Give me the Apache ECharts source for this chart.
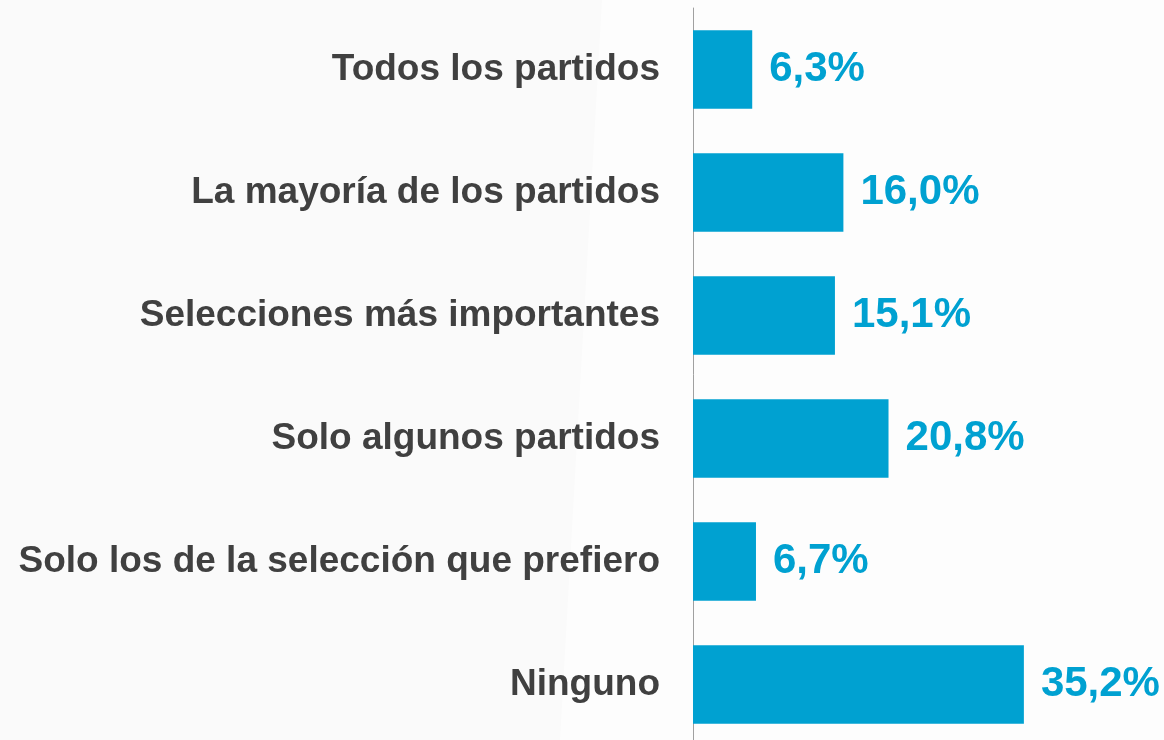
<!DOCTYPE html>
<html>
<head>
<meta charset="utf-8">
<script src="https://cdn.jsdelivr.net/npm/echarts@6/dist/echarts.min.js"></script>
<style>
  html, body { margin: 0; padding: 0; background: #fdfdfd; }
  #container { width: 1164px; height: 740px; }
</style>
</head>
<body>
<div id="container"></div>
<script>
  var categorias = ['Todos los partidos', 'La mayoría de los partidos', 'Selecciones más importantes', 'Solo algunos partidos', 'Solo los de la selección que prefiero', 'Ninguno'];
  var valores = [6.3, 16.0, 15.1, 20.8, 6.7, 35.2];

  var fuente = '"Liberation Sans"';
  var myChart = echarts.init(document.getElementById('container'));

  var option = {
      backgroundColor: '#fdfdfd',
      textStyle: { fontFamily: fuente },
      // fondo gris muy suave a la izquierda
      graphic: [{
          type: 'polygon',
          silent: true,
          z: -10,
          shape: { points: [[0, 0], [602, 0], [560, 740], [0, 740]] },
          style: { fill: '#fafafa' }
      }],
      grid: {
          left: 693,
          width: 470,
          top: 8,
          height: 738,
          outerBoundsMode: 'none'
      },
      xAxis: {
          type: 'value',
          min: 0,
          max: 50,
          show: false
      },
      yAxis: {
          type: 'category',
          inverse: true,
          data: categorias,
          axisLine: { show: true, lineStyle: { color: '#a0a0a0', width: 1 } },
          axisTick: { show: false },
          axisLabel: {
              margin: 33,
              color: '#404040',
              fontSize: 37,
              fontWeight: 'bold',
              fontFamily: fuente
          }
      },
      series: [{
          type: 'bar',
          data: valores,
          barCategoryGap: '36%',
          itemStyle: { color: '#00a1d1' },
          label: {
              show: true,
              position: 'right',
              distance: 17,
              color: '#00a1d1',
              fontSize: 42,
              fontWeight: 'bold',
              fontFamily: fuente,
              formatter: function (p) {
                  return p.value.toFixed(1).replace('.', ',') + '%';
              }
          }
      }]
  };

  myChart.setOption(option);
</script>
</body>
</html>
